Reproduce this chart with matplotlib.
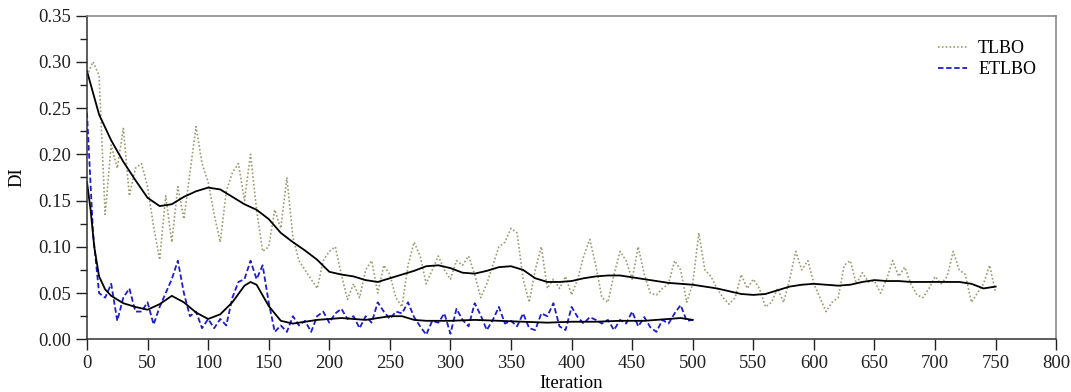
import numpy as np
import matplotlib
matplotlib.use("Agg")
import matplotlib.pyplot as plt
from matplotlib.ticker import MultipleLocator, FormatStrFormatter

plt.rcParams["font.family"] = ["Liberation Serif", "DejaVu Serif"]

# TLBO diversity index, read every 5 iterations
tlbo_iter = np.arange(0, 755, 5)
tlbo_di = [
    0.285, 0.300, 0.285, 0.135, 0.210, 0.185, 0.228, 0.155, 0.185, 0.190,
    0.165, 0.122, 0.086, 0.155, 0.105, 0.165, 0.130, 0.180, 0.230, 0.190,
    0.170, 0.135, 0.105, 0.160, 0.180, 0.190, 0.150, 0.200, 0.140, 0.095,
    0.100, 0.140, 0.120, 0.175, 0.110, 0.085, 0.075, 0.065, 0.055, 0.085,
    0.095, 0.100, 0.070, 0.043, 0.060, 0.045, 0.075, 0.085, 0.050, 0.080,
    0.070, 0.045, 0.035, 0.080, 0.105, 0.090, 0.060, 0.075, 0.090, 0.075,
    0.065, 0.085, 0.080, 0.090, 0.070, 0.045, 0.060, 0.080, 0.100, 0.105,
    0.120, 0.115, 0.065, 0.040, 0.075, 0.100, 0.055, 0.065, 0.055, 0.068,
    0.048, 0.065, 0.090, 0.108, 0.080, 0.045, 0.040, 0.070, 0.095, 0.085,
    0.065, 0.100, 0.070, 0.050, 0.048, 0.055, 0.060, 0.085, 0.075, 0.040,
    0.060, 0.115, 0.075, 0.068, 0.055, 0.045, 0.038, 0.045, 0.070, 0.055,
    0.065, 0.055, 0.035, 0.040, 0.055, 0.040, 0.065, 0.095, 0.075, 0.085,
    0.060, 0.045, 0.030, 0.040, 0.045, 0.080, 0.085, 0.060, 0.072, 0.062,
    0.063, 0.050, 0.065, 0.085, 0.068, 0.078, 0.060, 0.048, 0.045, 0.055,
    0.068, 0.060, 0.068, 0.095, 0.075, 0.070, 0.040, 0.050, 0.060, 0.080,
    0.050,
]

# ETLBO diversity index, read every 5 iterations
etlbo_iter = np.arange(0, 505, 5)
etlbo_di = [
    0.245, 0.115, 0.050, 0.045, 0.060, 0.020, 0.045, 0.055, 0.030, 0.030,
    0.040, 0.016, 0.035, 0.050, 0.065, 0.085, 0.050, 0.025, 0.030, 0.012,
    0.022, 0.012, 0.022, 0.015, 0.045, 0.062, 0.065, 0.085, 0.065, 0.080,
    0.040, 0.008, 0.015, 0.008, 0.025, 0.015, 0.020, 0.008, 0.025, 0.030,
    0.018, 0.028, 0.033, 0.022, 0.025, 0.012, 0.025, 0.018, 0.040, 0.030,
    0.022, 0.030, 0.028, 0.040, 0.024, 0.014, 0.005, 0.020, 0.018, 0.028,
    0.006, 0.033, 0.021, 0.014, 0.039, 0.026, 0.010, 0.021, 0.035, 0.017,
    0.020, 0.014, 0.028, 0.012, 0.010, 0.028, 0.025, 0.039, 0.014, 0.010,
    0.035, 0.024, 0.017, 0.024, 0.021, 0.017, 0.021, 0.010, 0.021, 0.017,
    0.030, 0.014, 0.024, 0.013, 0.008, 0.021, 0.017, 0.028, 0.037, 0.020,
    0.021,
]

# smoothed trend curves (black)
tlbo_trend_iter = np.arange(0, 760, 10)
tlbo_trend = [
    0.290, 0.243, 0.215, 0.192, 0.172, 0.153, 0.144, 0.146, 0.154, 0.160,
    0.164, 0.162, 0.154, 0.146, 0.140, 0.130, 0.115, 0.105, 0.096, 0.086,
    0.073, 0.070, 0.068, 0.064, 0.062, 0.066, 0.070, 0.074, 0.079, 0.080,
    0.077, 0.072, 0.071, 0.074, 0.078, 0.079, 0.075, 0.066, 0.062, 0.062,
    0.063, 0.066, 0.068, 0.069, 0.069, 0.067, 0.065, 0.063, 0.061, 0.060,
    0.059, 0.057, 0.055, 0.052, 0.049, 0.048, 0.049, 0.053, 0.057, 0.059,
    0.060, 0.059, 0.058, 0.059, 0.062, 0.064, 0.063, 0.063, 0.062, 0.062,
    0.062, 0.062, 0.062, 0.060, 0.055, 0.057,
]
etlbo_trend_iter = [0, 3, 6, 10, 15, 20, 30, 40, 50, 60, 70, 80, 90, 100,
                    110, 120, 130, 135, 140, 150, 160, 170, 180, 190, 200,
                    210, 220, 230, 240, 250, 260, 270, 280, 300, 320, 340,
                    360, 380, 400, 420, 440, 460, 480, 490, 500]
etlbo_trend = [0.170, 0.140, 0.100, 0.068, 0.054, 0.047, 0.039, 0.035, 0.032,
               0.038, 0.047, 0.040, 0.029, 0.022, 0.027, 0.040, 0.058, 0.062,
               0.059, 0.036, 0.020, 0.017, 0.019, 0.021, 0.022, 0.023, 0.022,
               0.021, 0.023, 0.025, 0.025, 0.021, 0.020, 0.020, 0.021, 0.020,
               0.019, 0.018, 0.019, 0.019, 0.020, 0.020, 0.022, 0.023, 0.021]

fig = plt.figure(figsize=(10.71, 3.92), dpi=100)
ax = fig.add_axes([0.0812, 0.1344, 0.905, 0.826])

ax.plot(tlbo_iter, tlbo_di, color="#9b9b70", lw=1.2, ls=(0, (1, 1.3)), label="TLBO")
ax.plot(etlbo_iter, etlbo_di, color="#1c1cd0", lw=1.3, ls=(0, (3, 1.5)), label="ETLBO")
ax.plot(tlbo_trend_iter, tlbo_trend, color="black", lw=1.3)
ax.plot(etlbo_trend_iter, etlbo_trend, color="black", lw=1.3)

ax.set_xlim(0, 800)
ax.set_ylim(0, 0.35)
ax.xaxis.set_major_locator(MultipleLocator(50))
ax.yaxis.set_major_locator(MultipleLocator(0.05))
ax.yaxis.set_minor_locator(MultipleLocator(0.025))
ax.yaxis.set_major_formatter(FormatStrFormatter("%.2f"))
ax.tick_params(axis="both", which="major", direction="out", length=8, width=1,
               labelsize=13.5, colors="#202020")
ax.tick_params(axis="y", which="minor", direction="out", length=5, width=1, colors="#202020")
ax.tick_params(top=False, right=False)

for side in ("left", "bottom"):
    ax.spines[side].set_color("#303030")
    ax.spines[side].set_linewidth(1.1)
for side in ("top", "right"):
    ax.spines[side].set_color("#808080")
    ax.spines[side].set_linewidth(1.1)

ax.set_xlabel("Iteration", fontsize=13.5, labelpad=2)
ax.set_ylabel("DI", fontsize=13.5, labelpad=9)

ax.legend(loc="upper right", bbox_to_anchor=(0.996, 0.975), frameon=False, fontsize=13,
          handlelength=1.6, handletextpad=0.6, labelspacing=0.25)

fig.savefig("out.png", dpi=100)
